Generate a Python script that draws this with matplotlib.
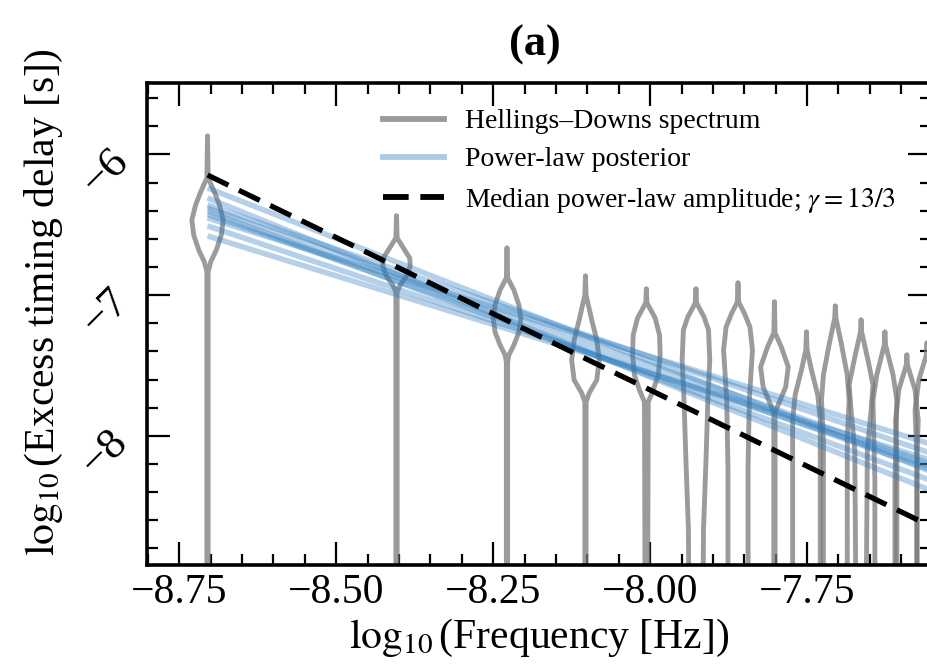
import numpy as np
import matplotlib
matplotlib.use("Agg")
import matplotlib.pyplot as plt
from matplotlib.lines import Line2D
from matplotlib.ticker import MultipleLocator

plt.rcParams['font.family'] = ['Liberation Serif', 'DejaVu Serif']
plt.rcParams['mathtext.fontset'] = 'stix'

# ---- data -------------------------------------------------------------
# log10 of the frequency bins (k / T, k = 1..14)
freq_log10 = [-8.705, -8.404, -8.228, -8.103, -8.006, -7.927, -7.860,
              -7.802, -7.751, -7.705, -7.664, -7.626, -7.591, -7.559]

# violin outlines: log10 delay levels (top -> bottom) and half widths
violin_y = [
    [-5.869, -6.167, -6.267, -6.359, -6.466, -6.572, -6.679, -6.764, -6.835, -9.3],
    [-6.437, -6.593, -6.665, -6.736, -6.792, -6.864, -6.928, -6.977, -9.3],
    [-6.665, -6.878, -6.963, -7.070, -7.162, -7.262, -7.354, -7.425, -7.475, -9.3],
    [-6.864, -6.999, -7.176, -7.318, -7.461, -7.603, -7.695, -7.759, -9.3],
    [-6.956, -7.055, -7.162, -7.283, -7.425, -7.567, -7.674, -7.759, -9.3],
    [-6.956, -7.055, -7.155, -7.247, -7.461, -7.745, -8.171, -8.668, -9.3],
    [-6.913, -7.048, -7.127, -7.226, -7.390, -7.745, -8.221, -9.3],
    [-7.048, -7.268, -7.368, -7.510, -7.652, -7.759, -7.830, -9.3],
    [-7.262, -7.389, -7.532, -7.709, -7.887, -8.313, -9.3],
    [-7.077, -7.162, -7.354, -7.567, -7.745, -8.029, -8.456, -9.3],
    [-7.176, -7.262, -7.461, -7.638, -7.816, -8.100, -9.3],
    [-7.262, -7.354, -7.567, -7.745, -7.958, -8.313, -9.3],
    [-7.425, -7.496, -7.674, -7.887, -8.171, -9.3],
    [-7.340, -7.425, -7.603, -7.816, -8.171, -9.3],
]
violin_w = [
    [0.0, 0.001, 0.011, 0.019, 0.025, 0.022, 0.014, 0.005, 0.001, 0.001],
    [0.0, 0.001, 0.011, 0.021, 0.022, 0.016, 0.006, 0.001, 0.001],
    [0.0, 0.001, 0.011, 0.019, 0.022, 0.019, 0.011, 0.003, 0.001, 0.001],
    [0.0, 0.001, 0.010, 0.018, 0.022, 0.018, 0.006, 0.001, 0.001],
    [0.0, 0.001, 0.014, 0.021, 0.022, 0.019, 0.011, 0.003, 0.002],
    [0.0, 0.001, 0.013, 0.020, 0.022, 0.019, 0.016, 0.012, 0.011],
    [0.0, 0.001, 0.010, 0.019, 0.023, 0.018, 0.016, 0.016],
    [0.0, 0.001, 0.011, 0.022, 0.018, 0.008, 0.001, 0.001],
    [0.0, 0.001, 0.008, 0.018, 0.022, 0.022, 0.022],
    [0.0, 0.001, 0.010, 0.019, 0.022, 0.019, 0.019, 0.019],
    [0.0, 0.001, 0.011, 0.019, 0.016, 0.010, 0.008],
    [0.0, 0.001, 0.013, 0.019, 0.018, 0.016, 0.016],
    [0.0, 0.001, 0.013, 0.018, 0.016, 0.016],
    [0.0, 0.001, 0.013, 0.019, 0.016, 0.016],
]

# power-law posterior draws: log10 delay at first and last frequency bin
pl_start = [-6.238, -6.309, -6.359, -6.380, -6.402, -6.425, -6.451, -6.508, -6.579]
pl_end = [-8.242, -8.377, -8.114, -8.190, -8.306, -8.230, -8.050, -8.207, -8.164]

# median power-law amplitude line (log10 delay at first bin) and gamma
median_start = -6.146
gamma = 13.0 / 3.0

x_ticks = [-8.75, -8.50, -8.25, -8.00, -7.75]
y_ticks = [-8, -7, -6]

# ---- figure --------------------------------------------------------------
W, H = 928, 669
fig = plt.figure(figsize=(W / 100, H / 100), dpi=100)
ax = fig.add_axes([147 / W, 1 - 565 / H, (931 - 147) / W, (565 - 82.7) / H])
xlim = (-8.8014, -7.5526)
ylim = (-8.9176, -5.4897)

gray = '#7a7a7a'
for x, ys, ws in zip(freq_log10, violin_y, violin_w):
    ys = np.asarray(ys)
    ws = np.asarray(ws)
    xs = np.concatenate([x - ws, (x + ws)[::-1]])
    yy = np.concatenate([ys, ys[::-1]])
    ax.plot(xs, yy, color=gray, alpha=0.75, lw=3.5,
            solid_joinstyle='round', solid_capstyle='round', zorder=2)

blue = '#2b7bbf'
x0, x1 = freq_log10[0], freq_log10[-1]
for ys, ye in zip(pl_start, pl_end):
    slope = (ye - ys) / (x1 - x0)
    xx = np.array([x0, xlim[1]])
    ax.plot(xx, ys + slope * (xx - x0), color=blue, alpha=0.35, lw=4.0,
            solid_capstyle='butt', zorder=3)

xx = np.array([x0, xlim[1]])
ax.plot(xx, median_start - gamma / 2 * (xx - x0), color='black', lw=3.8,
        ls=(0, (4.4, 2.2)), zorder=4)

ax.set_xlim(*xlim)
ax.set_ylim(*ylim)
ax.set_xticks(x_ticks)
ax.set_yticks(y_ticks)
ax.xaxis.set_minor_locator(MultipleLocator(0.05))
ax.yaxis.set_minor_locator(MultipleLocator(0.2))
ax.tick_params(which='both', direction='in', top=True, right=True,
               width=1.6, colors='black')
ax.tick_params(which='major', length=16.5)
ax.tick_params(which='minor', length=8)
ax.tick_params(axis='x', which='major', labelsize=30, pad=6)
ax.tick_params(axis='y', which='major', labelsize=32, pad=18)
for lbl in ax.get_yticklabels():
    lbl.set_rotation(45)
    lbl.set_rotation_mode('anchor')
    lbl.set_ha('right')
    lbl.set_va('center')
for s in ax.spines.values():
    s.set_linewidth(2.6)

ax.set_xlabel(r'$\log_{10}$(Frequency [Hz])', fontsize=30, labelpad=4)
ax.set_ylabel(r'$\log_{10}$(Excess timing delay [s])', fontsize=30)
ax.yaxis.set_label_coords(-0.105, 0.545)

handles = [
    Line2D([], [], color=gray, alpha=0.75, lw=4.2),
    Line2D([], [], color=blue, alpha=0.4, lw=4.2),
    Line2D([], [], color='black', lw=4.2, ls=(0, (4.4, 2.0))),
]
labels = ['Hellings\u2013Downs spectrum', 'Power-law posterior',
          r'Median power-law amplitude; $\gamma = 13/3$']
ax.legend(handles, labels, loc='upper left', frameon=False, fontsize=20,
          bbox_to_anchor=(383 / W, 1 - 109 / H), bbox_transform=fig.transFigure,
          borderpad=0, borderaxespad=0, handlelength=2.2, handletextpad=0.75,
          labelspacing=0.45)

fig.text(535 / W, 1 - 45 / H, '(a)', fontsize=32, fontweight='bold',
         ha='center', va='center')

fig.savefig('out.png', dpi=100)
